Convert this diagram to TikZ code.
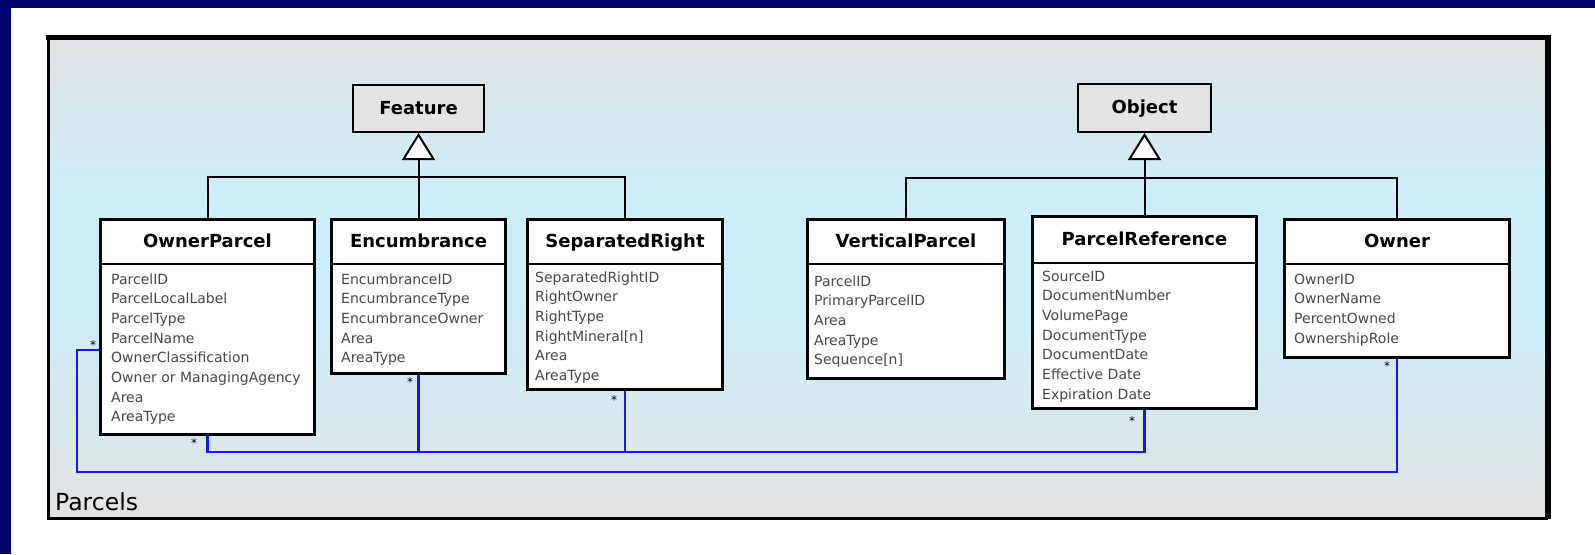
\documentclass[tikz,border=0pt]{standalone}
\usepackage{fontspec}
\setmainfont{DejaVu Sans}
\usetikzlibrary{arrows.meta}
\definecolor{navyband}{RGB}{0,0,108}
\definecolor{pkggray}{RGB}{227,227,227}
\definecolor{pkgcyan}{RGB}{204,238,248}
\definecolor{basegray}{RGB}{228,228,228}
\definecolor{assocblue}{RGB}{20,20,255}
\definecolor{attrgray}{RGB}{72,72,72}
\tikzset{
  pkgframe/.style={draw=black, line width=2.5pt, inner sep=0pt, anchor=north west},
  classbox/.style={draw=black, line width=2pt, fill=white, inner sep=0pt, anchor=north west},
  basebox/.style={draw=black, line width=2pt, fill=basegray, inner sep=0pt, anchor=north west},
  ctitle/.style={font=\fontsize{18}{20}\selectfont\bfseries, inner sep=0pt},
  attr/.style={font=\fontsize{14}{16}\selectfont, text=attrgray, inner sep=0pt, anchor=base west},
  inh/.style={draw=black, line width=2pt},
  gentip/.style={-{Triangle[fill=white, width=33pt, length=27pt]}},
  assoc/.style={draw=assocblue, line width=2.5pt},
  mult/.style={font=\fontsize{12}{12}\selectfont, inner sep=0pt},
  pkglabel/.style={font=\fontsize{23.5}{26}\selectfont, inner sep=0pt, anchor=base west}
}
\newcommand\classhead[3]{%
  \draw[inh] ([yshift=-#2pt]#1.north west) -- ([yshift=-#2pt]#1.north east);
  \node[ctitle, anchor=base] (#1t) at ([yshift={-(#2/2+6)*1pt}]#1.north) {#3};}
\newcommand\classattrs[4]{%
  \foreach \aname [count=\i] in {#4} {
    \node[attr] (#1a\i) at ([xshift=#2pt, yshift={-#3pt-(\i-1)*19.7pt}]#1.north west) {\aname};
  }}
\begin{document}
\begin{tikzpicture}[x=1pt, y=-1pt]
\useasboundingbox (0,0) rectangle (1595,554);
\fill[white] (0,0) rectangle (1595,554);
\fill[navyband] (0,0) rectangle (1595,8);
\fill[navyband] (0,0) rectangle (11,554);

% package background: vertical gradient gray -> cyan -> gray
\foreach \yy in {36,38,...,516} {
  \pgfmathsetmacro\pc{\yy<190 ? (\yy-36)/154*100 : (\yy<310 ? 100 : (517-\yy)/207*100)}
  \fill[pkgcyan!\pc!pkggray] (47,\yy) rectangle (1545,\yy+2.6);
}
% package frame
\node[pkgframe, minimum width=1498pt, minimum height=481pt] (pkg) at (47.25,36.25) {};
\draw[line width=4.5pt] (pkg.north west) ++(-1.25,1.25) -- ([shift={(1.25,1.25)}]pkg.north east) -- ([shift={(1.25,-1.25)}]pkg.south east);
\node[pkglabel] (pkgname) at (55,510) {Parcels};

% coordinates for connector routing
\coordinate (fbar) at (417.5,177);
\coordinate (obar) at (1143.5,178);
\coordinate (busy) at (0,452);
\coordinate (loopy) at (0,472);
\coordinate (stuby) at (0,350);

% base classes
\node[basebox, minimum width=131pt, minimum height=47pt] (feature) at (352,84) {};
\node[ctitle, anchor=base] (featuret) at ([yshift=-5.5pt]feature.center) {Feature};
\node[basebox, minimum width=133pt, minimum height=48pt] (object) at (1077,83) {};
\node[ctitle, anchor=base] (objectt) at ([yshift=-5.5pt]object.center) {Object};

% class boxes
\node[classbox, minimum width=213pt, minimum height=214pt] (op) at (100,219) {};
\node[classbox, minimum width=173pt, minimum height=153pt] (en) at (331,219) {};
\node[classbox, minimum width=194pt, minimum height=169pt] (sr) at (527,219) {};
\node[classbox, minimum width=196pt, minimum height=158pt] (vp) at (807,219) {};
\node[classbox, minimum width=223pt, minimum height=191pt] (pr) at (1032,216) {};
\node[classbox, minimum width=224pt, minimum height=137pt] (ow) at (1284,219) {};

% inheritance connectors
\draw[inh] (op.north) |- (fbar) -| (sr.north);
\draw[inh, gentip] (en.north) -- (feature.south);
\draw[inh] (vp.north) |- (obar) -| (ow.north);
\draw[inh, gentip] (pr.north) -- (object.south);

% associations
\draw[assoc] (op.south) |- (pr.south |- busy) -- (pr.south);
\draw[assoc] (en.south) -- (en.south |- busy);
\draw[assoc] (sr.south) -- (sr.south |- busy);
\draw[assoc] (op.west |- stuby) -- ++(-23,0) |- (ow.south |- loopy) -- (ow.south);

% redraw box outlines on top of connector ends
\foreach \b in {op,en,sr,vp,pr,ow} {\draw[line width=2pt] (\b.north west) rectangle (\b.south east);}

\classhead{op}{45}{OwnerParcel}
\classattrs{op}{11}{65}{ParcelID,ParcelLocalLabel,ParcelType,ParcelName,OwnerClassification,Owner or ManagingAgency,Area,AreaType}
\classhead{en}{45}{Encumbrance}
\classattrs{en}{10}{65}{EncumbranceID,EncumbranceType,EncumbranceOwner,Area,AreaType}
\classhead{sr}{45}{SeparatedRight}
\classattrs{sr}{8}{63}{SeparatedRightID,RightOwner,RightType,RightMineral[n],Area,AreaType}
\classhead{vp}{45}{VerticalParcel}
\classattrs{vp}{7}{67}{ParcelID,PrimaryParcelID,Area,AreaType,Sequence[n]}
\classhead{pr}{47}{ParcelReference}
\classattrs{pr}{10}{65}{SourceID,DocumentNumber,VolumePage,DocumentType,DocumentDate,Effective Date,Expiration Date}
\classhead{ow}{45}{Owner}
\classattrs{ow}{10}{65}{OwnerID,OwnerName,PercentOwned,OwnershipRole}

% multiplicities
\node[mult] (m1) at (93,345) {*};
\node[mult] (m2) at (194,443) {*};
\node[mult] (m3) at (410,382) {*};
\node[mult] (m4) at (614,400) {*};
\node[mult] (m5) at (1132,421) {*};
\node[mult] (m6) at (1387,366) {*};
\end{tikzpicture}
\end{document}
